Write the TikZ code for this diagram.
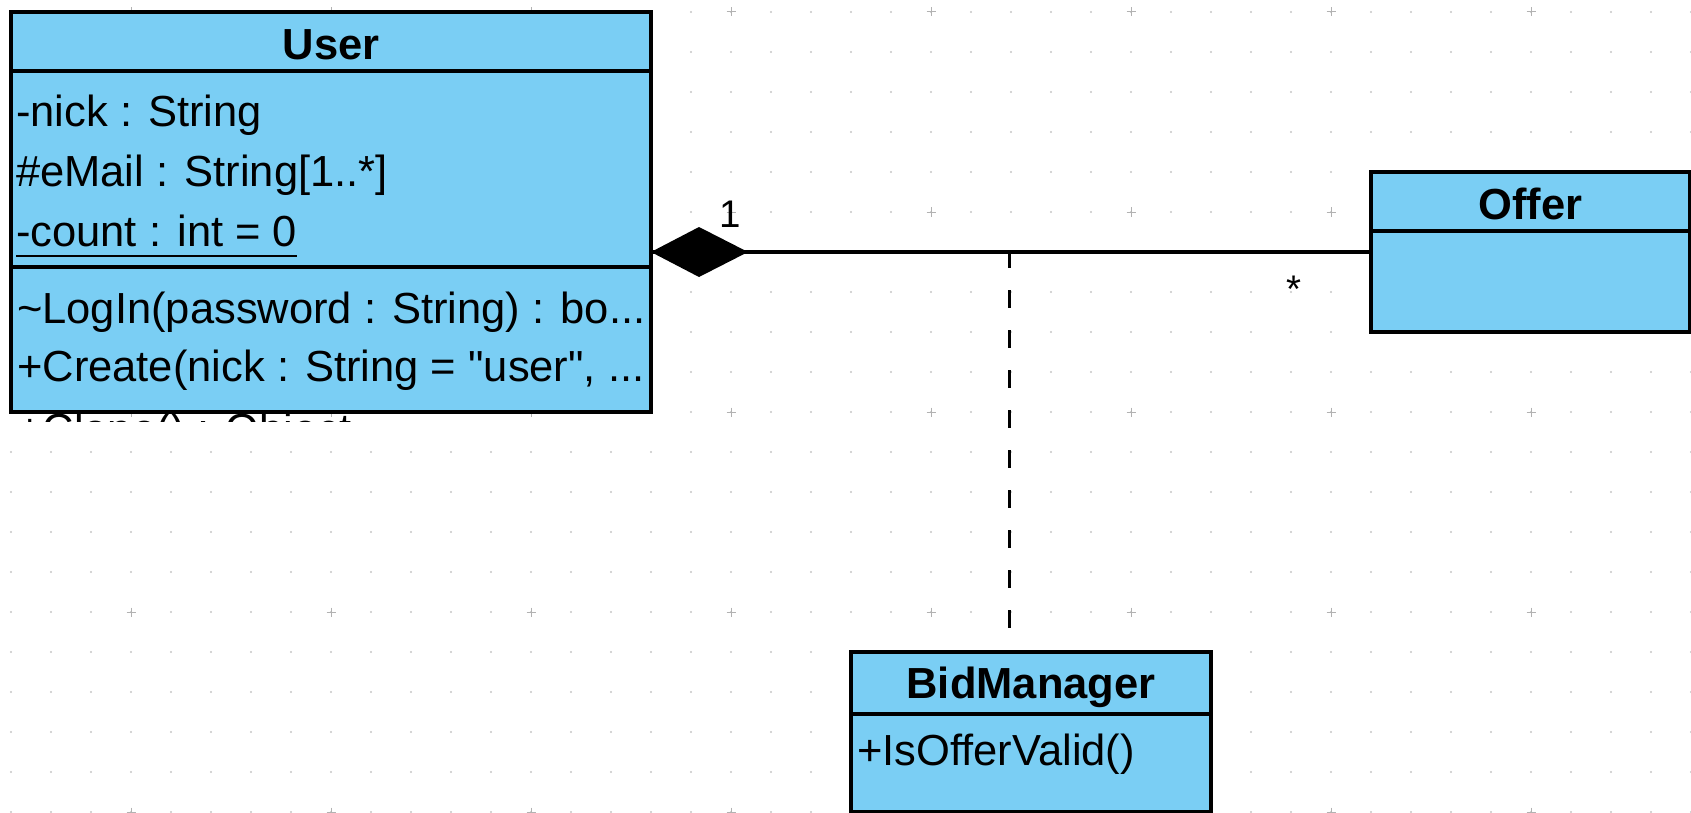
\documentclass[tikz,border=0pt]{standalone}
\usepackage{fontspec}
\setmainfont{Liberation Sans}
% plain family without TeX ligature mapping, so " stays a straight quote
\newfontfamily\uifont{Liberation Sans}
\usetikzlibrary{calc}

\definecolor{classfill}{HTML}{7ACEF4}
\definecolor{griddot}{HTML}{C6C6C6}
\definecolor{gridplus}{HTML}{B2B2B2}

\tikzset{
  classbox/.style={draw=black, line width=3.1pt, fill=classfill, anchor=north west,
                   inner sep=0pt, outer sep=0pt},
  divider/.style={draw=black, line width=3.1pt},
  member/.style={anchor=base west, inner sep=0pt, font=\uifont\fontsize{43.5}{50}\selectfont},
  classname/.style={anchor=base, inner sep=0pt, font=\uifont\fontsize{43.5}{50}\selectfont\bfseries},
  multiplicity/.style={anchor=base, inner sep=0pt, font=\uifont\fontsize{38.5}{44}\selectfont},
  assoc/.style={draw=black, line width=3.2pt},
  dependency/.style={draw=black, line width=3.4pt, dash pattern=on 18pt off 22pt, dash phase=2pt},
  gridmark/.style={draw=gridplus, line width=1pt},
}

\begin{document}
\begin{tikzpicture}[x=1pt, y=-1pt]
\useasboundingbox (0,0) rectangle (1691,813);
\fill[white] (0,0) rectangle (1691,813);
\clip (0,0) rectangle (1691,813);

% dotted drawing grid with a cross every fifth point
\foreach \gx in {0,...,42} {
  \foreach \gy in {0,...,20} {
    \fill[griddot] ({11+40*\gx},{12+40*\gy}) circle (1.1);
  }
}
\foreach \gx in {0,...,8} {
  \foreach \gy in {0,...,4} {
    \draw[gridmark] ({131+200*\gx-4.5},{12+200*\gy}) -- ++(9,0)
                    ({131+200*\gx},{12+200*\gy-4.5}) -- ++(0,9);
  }
}

% class User
\node[classbox, minimum width=640pt, minimum height=400pt] (user) at (11,12) {};
\draw[divider] ([yshift=-59pt]user.north west) -- ([yshift=-59pt]user.north east);
\draw[divider] ([yshift=-255pt]user.north west) -- ([yshift=-255pt]user.north east);
\node[classname] (username) at ([yshift=-47.3pt]user.north) {User};
\node[member] (unick)  at ([shift={(5pt,-115pt)}]user.north west) {-nick : String};
\node[member] (umail)  at ([shift={(5pt,-174pt)}]user.north west) {\#eMail : String[1..*]};
\node[member] (ucount) at ([shift={(5pt,-234pt)}]user.north west) {-count : int = 0};
\draw[line width=2.6pt] ([yshift=-10pt]ucount.base west) -- ([yshift=-10pt]ucount.base east);
\node[member] (ulogin)  at ([shift={(6pt,-311pt)}]user.north west)
  {\char`\~LogIn(password : String) : bo...};
\node[member] (ucreate) at ([shift={(6pt,-369.7pt)}]user.north west)
  {+Create(nick : String = "user", ...};
% the next operation overflows the box and is cut off just below it
\begin{scope}
  \clip ([yshift=-1.6pt]user.south west) rectangle ([yshift=-9.5pt]user.south east);
  \node[member] (uclone) at ([shift={(6pt,-432.5pt)}]user.north west) {+Clone() : Object};
\end{scope}

% class Offer
\node[classbox, minimum width=319pt, minimum height=160pt] (offer) at (1371,172) {};
\draw[divider] ([yshift=-59pt]offer.north west) -- ([yshift=-59pt]offer.north east);
\node[classname] (offername) at ([yshift=-47.3pt]offer.north) {Offer};

% class BidManager
\node[classbox, minimum width=360pt, minimum height=160pt] (bid) at (851,652) {};
\draw[divider] ([yshift=-62pt]bid.north west) -- ([yshift=-62pt]bid.north east);
\node[classname] (bidname) at ([yshift=-46.3pt]bid.north) {BidManager};
\node[member] (bidvalid) at ([shift={(6pt,-113pt)}]bid.north west) {+IsOfferValid()};

% composition User <>-- Offer
\coordinate (ua) at (offer.west -| user.east);
\draw[assoc] (ua) -- (offer.west);
\fill[black] (ua) -- ++(48,-25) -- ++(49,25) -- ++(-49,25) -- cycle;
\node[multiplicity] (mone)  at ([shift={(79pt,25pt)}]ua) {1};
\node[multiplicity] (mmany) at ([shift={(-77pt,-50pt)}]offer.west) {*};

% association class link to BidManager
\coordinate (amid) at ($(ua)!0.498!(offer.west)$);
\draw[dependency] (amid) -- (amid |- bid.north);
\end{tikzpicture}
\end{document}
